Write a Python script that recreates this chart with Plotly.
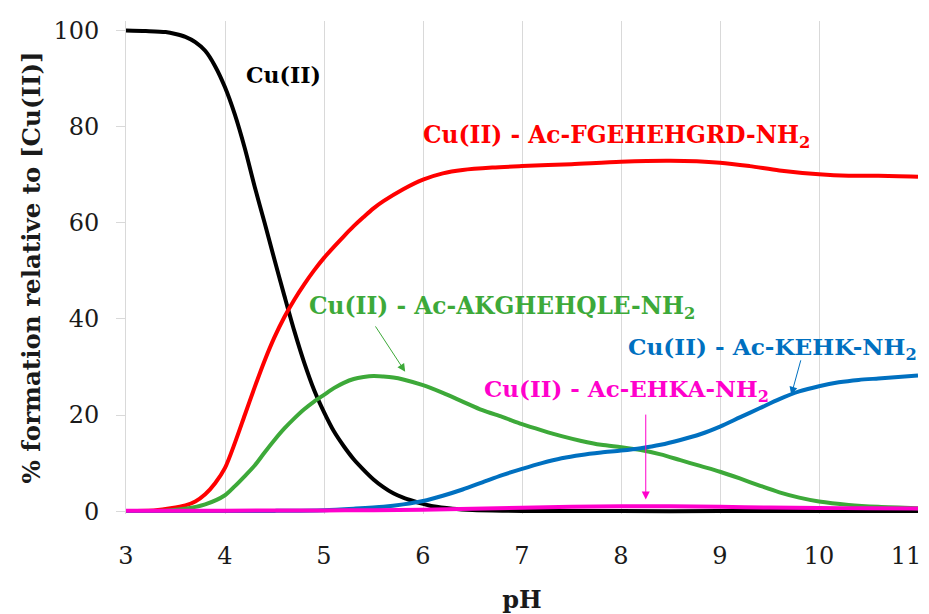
import plotly.graph_objects as go

# ---- data ----
ph_cu = [3.0, 3.2, 3.4, 3.5, 3.6, 3.7, 3.8, 3.9, 4.0, 4.1, 4.2, 4.3, 4.4, 4.5, 4.6, 4.7, 4.8, 4.9, 5.0,
         5.1, 5.2, 5.3, 5.4, 5.5, 5.6, 5.7, 5.8, 5.9, 6.0, 6.1, 6.3, 6.5, 6.8, 7.0, 8.0, 9.0, 10.0, 11.0]
cu_free = [100.0, 99.9, 99.7, 99.3, 98.7, 97.6, 95.8, 92.6, 88.2, 82.5, 75.5, 67.5, 60.0, 52.3, 44.8, 37.5,
           30.9, 25.2, 20.6, 16.6, 13.5, 10.8, 8.6, 6.6, 5.0, 3.7, 2.8, 2.1, 1.5, 1.0, 0.5, 0.25, 0.1, 0.05,
           0.0, 0.0, 0.0, 0.0]

ph_red = [3.0, 3.3, 3.45, 3.6, 3.7, 3.8, 3.9, 4.0, 4.1, 4.2, 4.3, 4.4, 4.5, 4.6, 4.7, 4.8, 4.9, 5.0, 5.1,
          5.2, 5.3, 5.4, 5.5, 5.6, 5.8, 6.0, 6.2, 6.4, 6.7, 7.0, 7.5, 8.0, 8.5, 9.0, 9.3, 9.6, 10.0, 10.3,
          10.6, 11.0]
cu_fgehehgrd = [0.0, 0.2, 0.6, 1.2, 2.0, 3.5, 5.8, 9.0, 14.2, 20.0, 25.8, 31.3, 36.2, 40.4, 44.0, 47.2,
                50.1, 52.7, 55.0, 57.2, 59.3, 61.2, 63.0, 64.5, 67.0, 69.0, 70.3, 71.0, 71.5, 71.8, 72.2,
                72.7, 72.9, 72.5, 71.8, 70.9, 70.1, 69.8, 69.8, 69.6]

ph_green = [3.0, 3.4, 3.6, 3.8, 4.0, 4.1, 4.2, 4.3, 4.4, 4.5, 4.6, 4.7, 4.8, 4.9, 5.0, 5.1, 5.2, 5.3, 5.4,
            5.5, 5.6, 5.7, 5.8, 6.0, 6.2, 6.4, 6.6, 6.8, 7.0, 7.2, 7.4, 7.6, 7.8, 8.0, 8.2, 8.4, 8.6, 8.8,
            9.0, 9.2, 9.4, 9.6, 9.8, 10.0, 10.3, 10.6, 11.0]
cu_akghehqle = [0.0, 0.1, 0.5, 1.4, 3.3, 5.2, 7.3, 9.5, 12.2, 14.8, 17.2, 19.3, 21.2, 22.8, 24.2, 25.6,
                26.7, 27.5, 27.9, 28.1, 28.0, 27.8, 27.4, 26.2, 24.6, 22.8, 21.0, 19.6, 18.1, 16.8, 15.6,
                14.6, 13.8, 13.3, 12.7, 11.8, 10.6, 9.4, 8.2, 6.8, 5.3, 3.9, 2.8, 2.0, 1.3, 0.9, 0.6]

ph_blue = [3.0, 4.0, 4.5, 5.0, 5.3, 5.6, 5.8, 6.0, 6.2, 6.4, 6.6, 6.8, 7.0, 7.2, 7.4, 7.6, 7.8, 8.0, 8.2,
           8.4, 8.6, 8.8, 9.0, 9.2, 9.4, 9.6, 9.8, 10.0, 10.2, 10.4, 10.6, 10.8, 11.0]
cu_kehk = [0.0, 0.0, 0.05, 0.2, 0.5, 0.9, 1.4, 2.1, 3.2, 4.5, 6.0, 7.5, 8.8, 10.0, 11.0, 11.7, 12.2, 12.6,
           13.1, 13.8, 14.8, 16.0, 17.6, 19.5, 21.4, 23.3, 24.9, 26.0, 26.8, 27.3, 27.6, 27.9, 28.2]

ph_mag = [3.0, 4.0, 5.0, 5.5, 6.0, 6.5, 7.0, 7.5, 8.0, 8.5, 9.0, 9.5, 10.0, 10.5, 11.0]
cu_ehka = [0.1, 0.1, 0.15, 0.2, 0.3, 0.5, 0.7, 0.9, 1.0, 1.0, 0.9, 0.75, 0.65, 0.6, 0.55]

x_ticks = [3, 4, 5, 6, 7, 8, 9, 10, 11]
x_tick_labels = ["3", "4", "5", "6", "7", "8", "9", "10", "11\u2003"]
y_ticks = [0, 20, 40, 60, 80, 100]

FONT = "DejaVu Serif"
C_BLACK = "#000000"
C_RED = "#FF0000"
C_GREEN = "#3DA939"
C_BLUE = "#0070C0"
C_MAG = "#FF00CC"
C_TEXT = "#1A1A1A"

fig = go.Figure()
for xs, ys, col in [(ph_cu, cu_free, C_BLACK), (ph_red, cu_fgehehgrd, C_RED),
                    (ph_green, cu_akghehqle, C_GREEN), (ph_blue, cu_kehk, C_BLUE),
                    (ph_mag, cu_ehka, C_MAG)]:
    fig.add_trace(go.Scatter(x=xs, y=ys, mode="lines",
                             line=dict(color=col, width=4, shape="spline", smoothing=0.8),
                             showlegend=False, hoverinfo="skip"))

def label(x, y, text, color, size):
    fig.add_annotation(x=x, y=y, xref="x", yref="y", text="<b>" + text + "</b>",
                       showarrow=False, font=dict(family=FONT, size=size, color=color),
                       xanchor="center", yanchor="middle")

def arrow(x0, y0, x1, y1, color):
    fig.add_annotation(x=x1, y=y1, ax=x0, ay=y0, xref="x", yref="y", axref="x", ayref="y",
                       text="", showarrow=True, arrowhead=2, arrowsize=1.6, arrowwidth=1,
                       arrowcolor=color, standoff=0, startstandoff=0)

label(4.586, 90.8, "Cu(II)", C_BLACK, 22)
label(7.95, 77.9, "Cu(II) - Ac-FGEHEHGRD-NH<sub>2</sub>", C_RED, 23.3)
label(6.80, 42.3, "Cu(II) - Ac-AKGHEHQLE-NH<sub>2</sub>", C_GREEN, 23.3)
label(9.53, 33.75, "Cu(II) - Ac-KEHK-NH<sub>2</sub>", C_BLUE, 23.2)
label(8.06, 25.0, "Cu(II) - Ac-EHKA-NH<sub>2</sub>", C_MAG, 23)

arrow(5.51, 38.75, 5.82, 29.0, C_GREEN)
arrow(9.82, 31.7, 9.72, 24.2, C_BLUE)
arrow(8.25, 20.4, 8.25, 2.4, C_MAG)

# the page body has an 8px default margin, so the figure is sized/offset to compensate
fig.update_layout(
    width=921, height=606,
    margin=dict(l=118, r=11, t=13, b=100),
    paper_bgcolor="white", plot_bgcolor="white",
    font=dict(family=FONT, size=24, color=C_TEXT),
    xaxis=dict(range=[3, 11], tickvals=x_ticks, ticktext=x_tick_labels,
               showgrid=True, gridcolor="#D9D9D9", gridwidth=1, zeroline=False,
               showline=False, ticks="", ticklabelstandoff=25, ticklabeloverflow="allow",
               automargin=False,
               title=dict(text="<b>pH</b>", font=dict(family=FONT, size=24, color=C_TEXT),
                          standoff=26)),
    yaxis=dict(range=[-0.6, 102], tickvals=y_ticks, ticktext=[str(v) for v in y_ticks],
               showgrid=False, zeroline=False, showline=True, linecolor="#D9D9D9", linewidth=1,
               ticks="outside", ticklen=9, tickcolor="#D9D9D9", ticklabelstandoff=12,
               automargin=False,
               title=dict(text="<b>% formation relative to [Cu(II)]</b>",
                          font=dict(family=FONT, size=24.5, color=C_TEXT), standoff=5)),
)

fig.write_html("out.html")
